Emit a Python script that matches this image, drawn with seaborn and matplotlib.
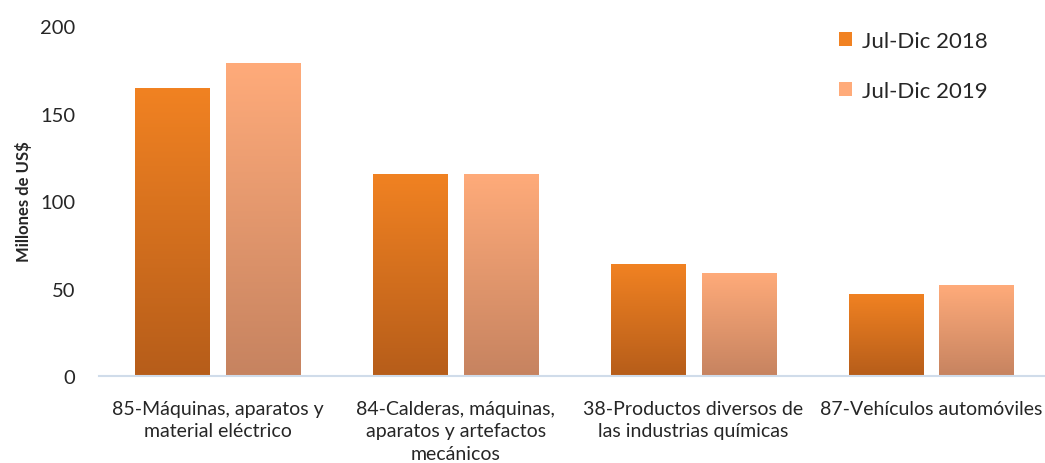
import numpy as np
import pandas as pd
import matplotlib as mpl
mpl.use("Agg")
import matplotlib.pyplot as plt
import seaborn as sns
from matplotlib.colors import LinearSegmentedColormap
from matplotlib.patches import Patch

# Data
categories = ["85-Máquinas, aparatos y\nmaterial eléctrico",
              "84-Calderas, máquinas,\naparatos y artefactos\nmecánicos",
              "38-Productos diversos de\nlas industrias químicas",
              "87-Vehículos automóviles"]
series = ["Jul-Dic 2018", "Jul-Dic 2019"]
values_2018 = [164.5, 115.5, 64.0, 47.0]
values_2019 = [179.0, 115.5, 59.0, 52.0]

df = pd.DataFrame({
    "cat": categories * 2,
    "periodo": [series[0]] * 4 + [series[1]] * 4,
    "valor": values_2018 + values_2019,
})

sns.set_style("white")
plt.rcParams["font.family"] = ["Lato", "DejaVu Sans"]

# gradient colours (top, bottom)
grads = {series[0]: ("#F18222", "#B65D1A"), series[1]: ("#FFAB7A", "#C68360")}

fig = plt.figure(figsize=(10.45, 4.64), dpi=100)
ax = fig.add_axes([0.0947, 0.1875, 0.91, 0.754])

sns.barplot(data=df, x="cat", y="valor", hue="periodo", order=categories,
            hue_order=series, width=0.765, gap=0.186,
            palette=[grads[s][0] for s in series], ax=ax, legend=False)

# replace flat fills with vertical gradients
for container, s in zip(ax.containers, series):
    cmap = LinearSegmentedColormap.from_list(s, [grads[s][1], grads[s][0]])
    for bar in container:
        x0, y0 = bar.get_x(), bar.get_y()
        w, h = bar.get_width(), bar.get_height()
        bar.set_facecolor("none")
        bar.set_edgecolor("none")
        grad = np.linspace(0, 1, 256).reshape(-1, 1)
        im = ax.imshow(grad, cmap=cmap, origin="lower", aspect="auto",
                       extent=[x0, x0 + w, y0, y0 + h], zorder=2)
        im.set_clip_path(bar)

ax.set_xlim(-0.5, 3.5)
ax.set_ylim(0, 200)
ax.set_yticks([0, 50, 100, 150, 200])
ax.tick_params(axis="y", labelsize=14.5, length=0, pad=17)
ax.tick_params(axis="x", labelsize=14, length=0, pad=17)
for lbl in ax.get_xticklabels():
    lbl.set_linespacing(1.4)
ax.set_xlabel("")
ax.set_ylabel("Millones de US$", fontsize=12, fontweight="bold", labelpad=6)

for side in ["top", "right", "left"]:
    ax.spines[side].set_visible(False)
ax.spines["bottom"].set_color("#D0DCEA")
ax.spines["bottom"].set_linewidth(1.5)

handles = [Patch(facecolor=grads[s][0], edgecolor="none") for s in series]
ax.legend(handles, series, loc="upper right", bbox_to_anchor=(0.956, 1.044),
          frameon=False, fontsize=16, handlelength=0.6, handleheight=0.6,
          labelspacing=1.34, handletextpad=0.45)

fig.savefig("out.png", dpi=100)
